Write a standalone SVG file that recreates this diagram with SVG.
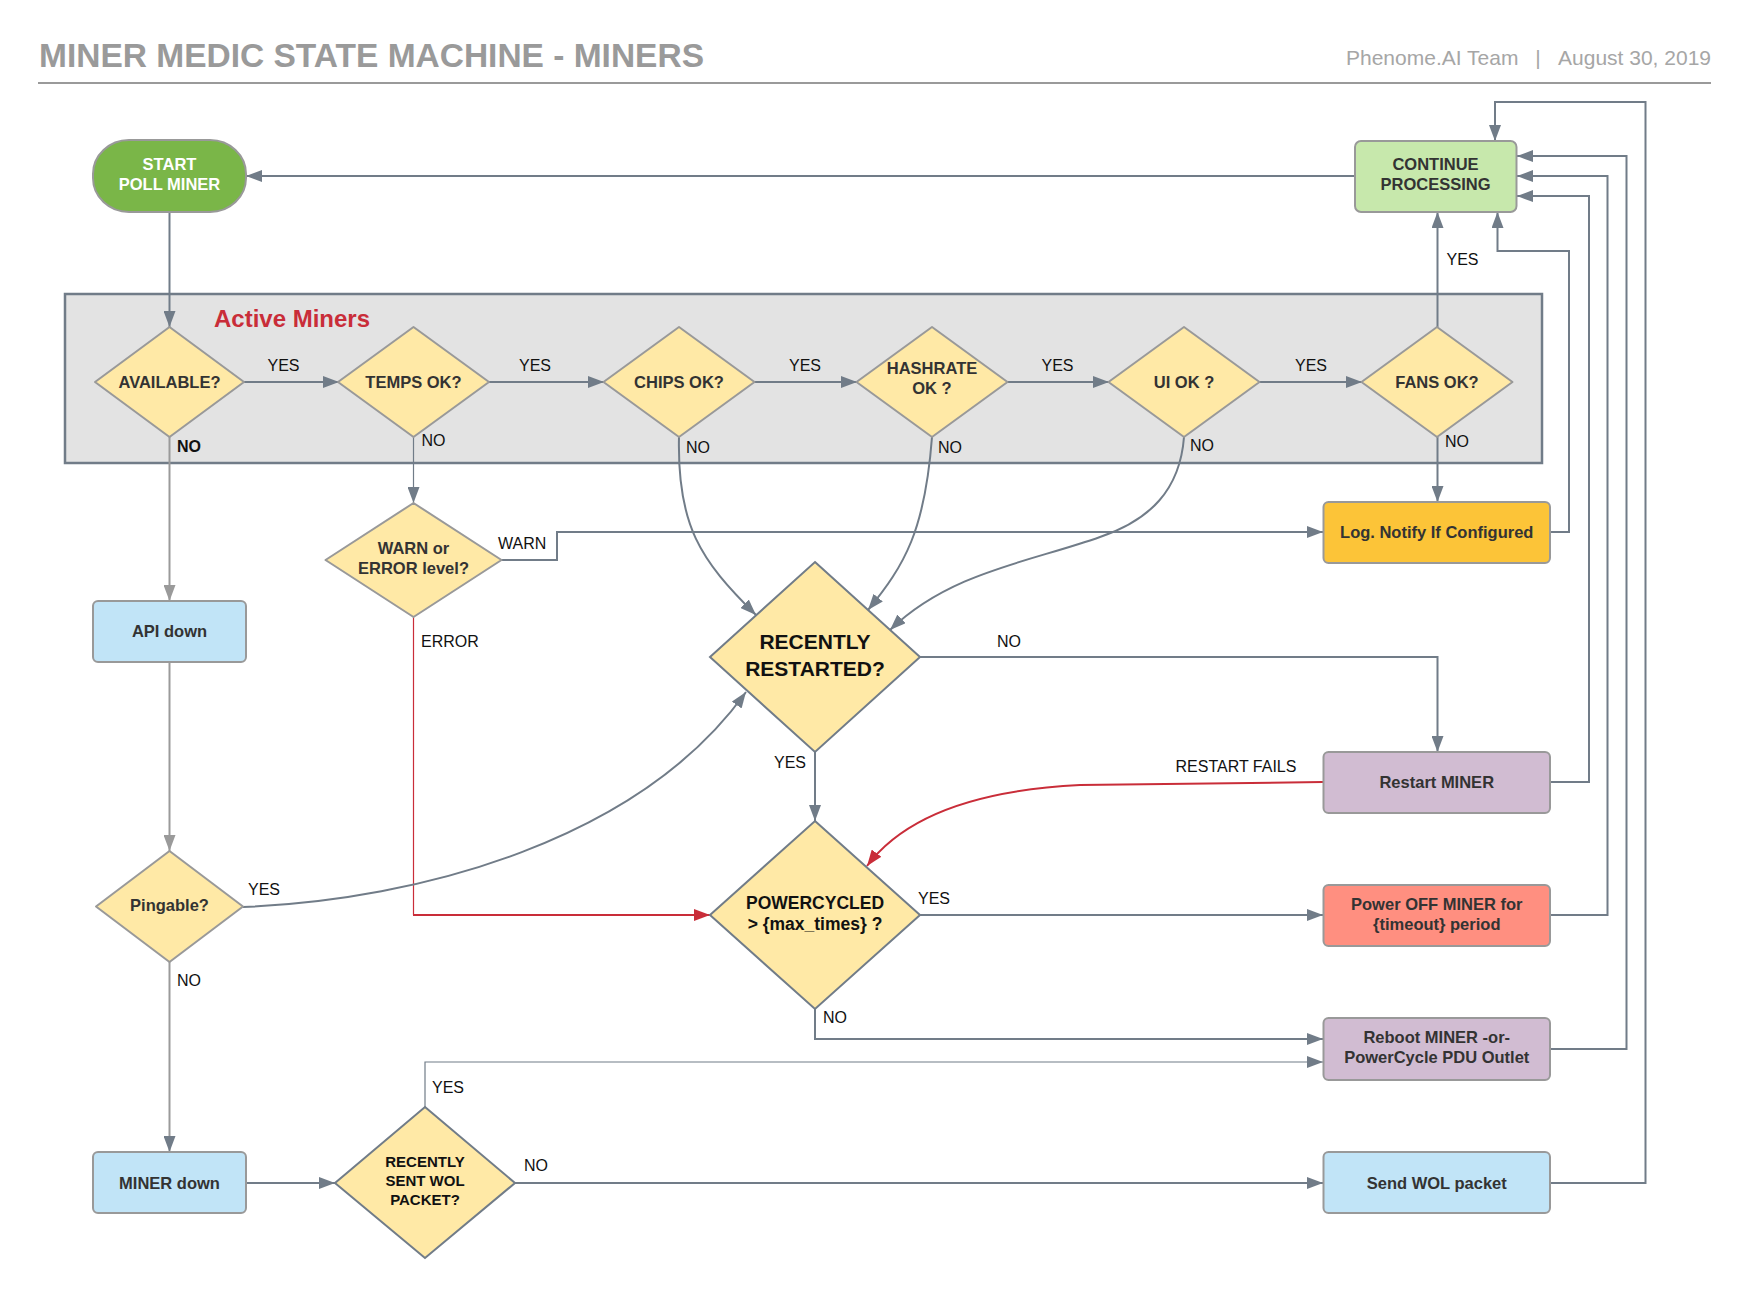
<svg xmlns="http://www.w3.org/2000/svg" width="1751" height="1296" viewBox="0 0 1751 1296">
<defs>
<marker id="aS" markerUnits="userSpaceOnUse" markerWidth="17" markerHeight="12" refX="16" refY="6" orient="auto"><path d="M0,0 L16,6 L0,12 z" fill="#717c88"/></marker>
<marker id="aG" markerUnits="userSpaceOnUse" markerWidth="17" markerHeight="12" refX="16" refY="6" orient="auto"><path d="M0,0 L16,6 L0,12 z" fill="#9a9a9a"/></marker>
<marker id="aR" markerUnits="userSpaceOnUse" markerWidth="17" markerHeight="12" refX="16" refY="6" orient="auto"><path d="M0,0 L16,6 L0,12 z" fill="#c92d39"/></marker>
</defs>
<style>
text{font-family:"Liberation Sans",Arial,sans-serif}
.t{font-size:16.5px;font-weight:bold;fill:#333;text-anchor:middle}
.big{font-size:21px;font-weight:bold;fill:#111;text-anchor:middle}
.pc{font-size:17.5px;font-weight:bold;fill:#111;text-anchor:middle}
.lb{font-size:16px;fill:#111}
.dm{fill:#ffe9a6;stroke:#999;stroke-width:2;stroke-linejoin:round}
.dmb{fill:#ffe9a6;stroke:#717c88;stroke-width:2}
.bx{stroke:#999;stroke-width:2}
.c{fill:none;stroke:#717c88;stroke-width:2}
.c1{fill:none;stroke:#717c88;stroke-width:1.2}
.g{fill:none;stroke:#9a9a9a;stroke-width:2}
.r{fill:none;stroke:#c92d39}
</style>
<rect width="1751" height="1296" fill="#fff"/>
<text x="39" y="67" font-size="33.5" font-weight="bold" fill="#9a9a9a" textLength="665" lengthAdjust="spacingAndGlyphs">MINER MEDIC STATE MACHINE - MINERS</text>
<text x="1346" y="65" font-size="21" fill="#a6a6a6">Phenome.AI Team</text>
<text x="1538" y="65" font-size="21" fill="#a6a6a6" text-anchor="middle">|</text>
<text x="1711" y="65" font-size="21" fill="#a6a6a6" text-anchor="end">August 30, 2019</text>
<line x1="38" y1="83" x2="1711" y2="83" stroke="#9a9a9a" stroke-width="2"/>

<g id="active-miners">
<rect x="65" y="294" width="1477" height="169" fill="#e3e3e3" stroke="#717c88" stroke-width="2.5"/>
<text x="214" y="327" font-size="24" font-weight="bold" fill="#c92d39">Active Miners</text>
</g>

<g id="connectors">
<path class="c" d="M1355,176 H246" marker-end="url(#aS)"/>
<path class="c" d="M169.5,212 V327" marker-end="url(#aS)"/>
<path class="c" d="M244,382 H339" marker-end="url(#aS)"/>
<path class="c" d="M489,382 H604" marker-end="url(#aS)"/>
<path class="c" d="M754,382 H857" marker-end="url(#aS)"/>
<path class="c" d="M1007,382 H1109" marker-end="url(#aS)"/>
<path class="c" d="M1259,382 H1362" marker-end="url(#aS)"/>
<path class="c" d="M1437.5,327 V212" marker-end="url(#aS)"/>
<path class="g" d="M169.5,437 V601" marker-end="url(#aG)"/>
<path class="c1" d="M413.5,437 V503" marker-end="url(#aS)"/>
<path class="c" d="M501.5,560 H557 V532 H1323" marker-end="url(#aS)"/>
<path class="r" stroke-width="1.2" d="M413.5,617 V915"/>
<path class="r" stroke-width="2.2" d="M413,915 H710" marker-end="url(#aR)"/>
<path class="c" d="M679,437 C677,525 700,560 756,615" marker-end="url(#aS)"/>
<path class="c" d="M932,437 C925,530 905,565 868,610" marker-end="url(#aS)"/>
<path class="c" d="M1184,437 C1180,490 1150,520 1100,537 C1030,562 950,572 890,630" marker-end="url(#aS)"/>
<path class="c" d="M1437.5,437 V502" marker-end="url(#aS)"/>
<path class="c" d="M1550,532 H1569 V251 H1497.5 V212" marker-end="url(#aS)"/>
<path class="c" d="M920,657 H1437.5 V752" marker-end="url(#aS)"/>
<path class="c" d="M1550,782 H1589 V196 H1517" marker-end="url(#aS)"/>
<path class="r" stroke-width="2" d="M1323,782 L1080,785 C980,790 905,815 867,866" marker-end="url(#aR)"/>
<path class="c" d="M815,752 V821" marker-end="url(#aS)"/>
<path class="c" d="M920,915 H1323" marker-end="url(#aS)"/>
<path class="c" d="M1550,915 H1607.5 V176 H1517" marker-end="url(#aS)"/>
<path class="c" d="M815,1009 V1039 H1323" marker-end="url(#aS)"/>
<path class="c1" d="M425,1107 V1062 H1323" marker-end="url(#aS)"/>
<path class="c" d="M1550,1049 H1626.5 V156 H1517" marker-end="url(#aS)"/>
<path class="g" d="M169.5,662 V851" marker-end="url(#aG)"/>
<path class="c" d="M243,907 C420,900 640,840 746,692" marker-end="url(#aS)"/>
<path class="g" d="M169.5,962 V1152" marker-end="url(#aS)"/>
<path class="c" d="M246,1183 H335" marker-end="url(#aS)"/>
<path class="c" d="M515,1183 H1323" marker-end="url(#aS)"/>
<path class="c" d="M1550,1183 H1645.5 V102 H1495 V141" marker-end="url(#aS)"/>
</g>

<g id="labels">
<text class="lb" x="267.5" y="371">YES</text>
<text class="lb" x="519" y="371">YES</text>
<text class="lb" x="789" y="371">YES</text>
<text class="lb" x="1041.5" y="371">YES</text>
<text class="lb" x="1295" y="371">YES</text>
<text class="lb" x="1446.5" y="265">YES</text>
<text class="lb" x="177" y="452" font-weight="bold">NO</text>
<text class="lb" x="421.5" y="446">NO</text>
<text class="lb" x="686" y="453">NO</text>
<text class="lb" x="938" y="453">NO</text>
<text class="lb" x="1190" y="451">NO</text>
<text class="lb" x="1445" y="447">NO</text>
<text class="lb" x="498" y="549">WARN</text>
<text class="lb" x="421" y="647">ERROR</text>
<text class="lb" x="997" y="647">NO</text>
<text class="lb" x="774" y="768">YES</text>
<text class="lb" x="1175.5" y="772">RESTART FAILS</text>
<text class="lb" x="248" y="895">YES</text>
<text class="lb" x="918" y="904">YES</text>
<text class="lb" x="177" y="986">NO</text>
<text class="lb" x="823" y="1023">NO</text>
<text class="lb" x="432" y="1093">YES</text>
<text class="lb" x="524" y="1171">NO</text>
</g>

<g id="start">
<rect class="bx" x="93" y="140" width="153" height="72" rx="36" ry="34" fill="#7ab648"/>
<text class="t" x="169.5" y="170" style="fill:#fff">START</text>
<text class="t" x="169.5" y="190" style="fill:#fff">POLL MINER</text>
</g>
<g id="continue">
<rect class="bx" x="1355" y="141" width="161.5" height="71" rx="6" fill="#c7e8ac"/>
<text class="t" x="1435.5" y="170">CONTINUE</text>
<text class="t" x="1435.5" y="190">PROCESSING</text>
</g>
<g id="available">
<polygon class="dm" points="169.5,327 244,382 169.5,437 95,382"/>
<text class="t" x="169.5" y="388">AVAILABLE?</text>
</g>
<g id="temps">
<polygon class="dm" points="413.5,327 489,382 413.5,437 338,382"/>
<text class="t" x="413.5" y="388">TEMPS OK?</text>
</g>
<g id="chips">
<polygon class="dm" points="679,327 754.5,382 679,437 603.5,382"/>
<text class="t" x="679" y="388">CHIPS OK?</text>
</g>
<g id="hashrate">
<polygon class="dm" points="932,327 1007.5,382 932,437 856.5,382"/>
<text class="t" x="932" y="374">HASHRATE</text>
<text class="t" x="932" y="394">OK ?</text>
</g>
<g id="ui">
<polygon class="dm" points="1184,327 1259.5,382 1184,437 1108.5,382"/>
<text class="t" x="1184" y="388">UI OK ?</text>
</g>
<g id="fans">
<polygon class="dm" points="1437,327 1512.5,382 1437,437 1361.5,382"/>
<text class="t" x="1437" y="388">FANS OK?</text>
</g>
<g id="warn">
<polygon class="dm" points="413.5,503 501.5,560 413.5,617 325.5,560"/>
<text class="t" x="413.5" y="554">WARN or</text>
<text class="t" x="413.5" y="574">ERROR level?</text>
</g>
<g id="log-notify">
<rect class="bx" x="1323.5" y="502" width="226.5" height="61" rx="5" fill="#fcc438"/>
<text class="t" x="1436.75" y="538">Log. Notify If Configured</text>
</g>
<g id="api-down">
<rect class="bx" x="93" y="601" width="153" height="61" rx="5" fill="#c1e4f7"/>
<text class="t" x="169.5" y="637">API down</text>
</g>
<g id="recently-restarted">
<polygon class="dmb" points="815,562 920,657 815,752 710,657"/>
<text class="big" x="815" y="648.5">RECENTLY</text>
<text class="big" x="815" y="675.5">RESTARTED?</text>
</g>
<g id="restart-miner">
<rect class="bx" x="1323.5" y="752" width="226.5" height="61" rx="5" fill="#d1bcd2"/>
<text class="t" x="1436.75" y="788">Restart MINER</text>
</g>
<g id="pingable">
<polygon class="dm" points="169.5,851 243,906.5 169.5,962 96,906.5"/>
<text class="t" x="169.5" y="911">Pingable?</text>
</g>
<g id="powercycled">
<polygon class="dmb" points="815,821 920,915 815,1009 710,915"/>
<text class="pc" x="815" y="909">POWERCYCLED</text>
<text class="pc" x="815" y="930">&gt; {max_times} ?</text>
</g>
<g id="power-off">
<rect class="bx" x="1323.5" y="885" width="226.5" height="61" rx="5" fill="#ff8f80"/>
<text class="t" x="1436.75" y="910">Power OFF MINER for</text>
<text class="t" x="1436.75" y="930">{timeout} period</text>
</g>
<g id="reboot">
<rect class="bx" x="1323.5" y="1018" width="226.5" height="62" rx="5" fill="#d1bcd2"/>
<text class="t" x="1436.75" y="1043">Reboot MINER -or-</text>
<text class="t" x="1436.75" y="1063">PowerCycle PDU Outlet</text>
</g>
<g id="miner-down">
<rect class="bx" x="93" y="1152" width="153" height="61" rx="5" fill="#c1e4f7"/>
<text class="t" x="169.5" y="1189">MINER down</text>
</g>
<g id="recently-sent-wol">
<polygon class="dmb" points="425,1107 515,1183 425,1258 335,1183"/>
<text class="t" x="425" y="1167" style="font-size:15px;fill:#111">RECENTLY</text>
<text class="t" x="425" y="1185.5" style="font-size:15px;fill:#111">SENT WOL</text>
<text class="t" x="425" y="1204.5" style="font-size:15px;fill:#111">PACKET?</text>
</g>
<g id="send-wol">
<rect class="bx" x="1323.5" y="1152" width="226.5" height="61" rx="5" fill="#c1e4f7"/>
<text class="t" x="1436.75" y="1189">Send WOL packet</text>
</g>
</svg>
